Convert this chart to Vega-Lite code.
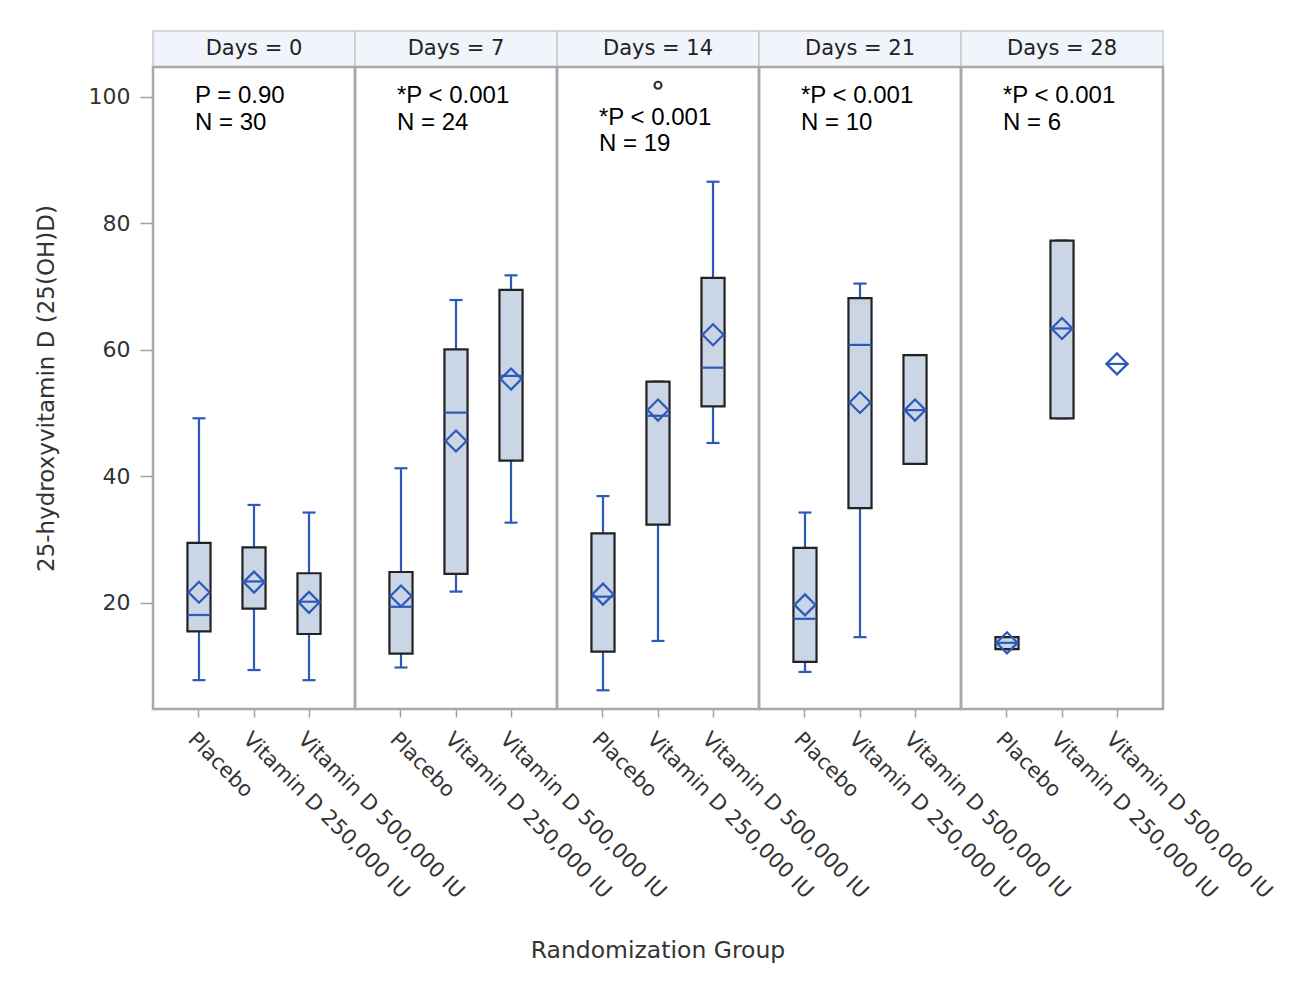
{
  "$schema": "https://vega.github.io/schema/vega-lite/v6.json",
  "padding": {"left": 35, "top": 30, "right": 10, "bottom": 10},
  "background": "white",
  "bounds": "flush",
  "data": {"values": [
    {"kind": "header", "day": "Days = 0"},
    {"kind": "header", "day": "Days = 7"},
    {"kind": "header", "day": "Days = 14"},
    {"kind": "header", "day": "Days = 21"},
    {"kind": "header", "day": "Days = 28"},
    {"kind": "box", "day": "Days = 0", "group": "Placebo", "lower": 7.8, "q1": 15.5, "median": 18.1, "q3": 29.5, "upper": 49.2, "mean": 21.7},
    {"kind": "box", "day": "Days = 0", "group": "Vitamin D 250,000 IU", "lower": 9.4, "q1": 19.1, "median": 23.4, "q3": 28.8, "upper": 35.5, "mean": 23.3},
    {"kind": "box", "day": "Days = 0", "group": "Vitamin D 500,000 IU", "lower": 7.8, "q1": 15.1, "median": 20.2, "q3": 24.7, "upper": 34.3, "mean": 20.1},
    {"kind": "box", "day": "Days = 7", "group": "Placebo", "lower": 9.8, "q1": 12.0, "median": 19.4, "q3": 24.9, "upper": 41.3, "mean": 21.1},
    {"kind": "box", "day": "Days = 7", "group": "Vitamin D 250,000 IU", "lower": 21.8, "q1": 24.6, "median": 50.1, "q3": 60.1, "upper": 67.9, "mean": 45.6},
    {"kind": "box", "day": "Days = 7", "group": "Vitamin D 500,000 IU", "lower": 32.7, "q1": 42.5, "median": 55.9, "q3": 69.5, "upper": 71.8, "mean": 55.4},
    {"kind": "box", "day": "Days = 14", "group": "Placebo", "lower": 6.2, "q1": 12.3, "median": 21.0, "q3": 31.0, "upper": 36.9, "mean": 21.4},
    {"kind": "box", "day": "Days = 14", "group": "Vitamin D 250,000 IU", "lower": 14.0, "q1": 32.4, "median": 49.6, "q3": 55.0, "upper": 55.0, "mean": 50.5},
    {"kind": "box", "day": "Days = 14", "group": "Vitamin D 500,000 IU", "lower": 45.3, "q1": 51.1, "median": 57.2, "q3": 71.4, "upper": 86.6, "mean": 62.4},
    {"kind": "box", "day": "Days = 21", "group": "Placebo", "lower": 9.1, "q1": 10.7, "median": 17.5, "q3": 28.7, "upper": 34.3, "mean": 19.7},
    {"kind": "box", "day": "Days = 21", "group": "Vitamin D 250,000 IU", "lower": 14.6, "q1": 35.0, "median": 60.8, "q3": 68.2, "upper": 70.5, "mean": 51.7},
    {"kind": "box", "day": "Days = 21", "group": "Vitamin D 500,000 IU", "lower": 42.0, "q1": 42.0, "median": 50.5, "q3": 59.2, "upper": 59.2, "mean": 50.5},
    {"kind": "box", "day": "Days = 28", "group": "Placebo", "lower": 12.7, "q1": 12.7, "median": 13.7, "q3": 14.6, "upper": 14.6, "mean": 13.7},
    {"kind": "box", "day": "Days = 28", "group": "Vitamin D 250,000 IU", "lower": 49.2, "q1": 49.2, "median": 63.4, "q3": 77.3, "upper": 77.3, "mean": 63.4},
    {"kind": "box", "day": "Days = 28", "group": "Vitamin D 500,000 IU", "lower": null, "q1": null, "median": 57.8, "q3": null, "upper": null, "mean": 57.8},
    {"kind": "outlier", "day": "Days = 14", "group": "Vitamin D 250,000 IU", "value": 101.85},
    {"kind": "note", "day": "Days = 0", "group": "Placebo", "value": 100.2, "label": "P = 0.90"},
    {"kind": "note", "day": "Days = 0", "group": "Placebo", "value": 95.9, "label": "N = 30"},
    {"kind": "note", "day": "Days = 7", "group": "Placebo", "value": 100.2, "label": "*P < 0.001"},
    {"kind": "note", "day": "Days = 7", "group": "Placebo", "value": 95.9, "label": "N = 24"},
    {"kind": "note", "day": "Days = 14", "group": "Placebo", "value": 96.7, "label": "*P < 0.001"},
    {"kind": "note", "day": "Days = 14", "group": "Placebo", "value": 92.6, "label": "N = 19"},
    {"kind": "note", "day": "Days = 21", "group": "Placebo", "value": 100.2, "label": "*P < 0.001"},
    {"kind": "note", "day": "Days = 21", "group": "Placebo", "value": 95.9, "label": "N = 10"},
    {"kind": "note", "day": "Days = 28", "group": "Placebo", "value": 100.2, "label": "*P < 0.001"},
    {"kind": "note", "day": "Days = 28", "group": "Placebo", "value": 95.9, "label": "N = 6"}
  ]},
  "spacing": 0,
  "facet": {"column": {"field": "day", "type": "nominal", "title": "Randomization Group", "sort": ["Days = 0", "Days = 7", "Days = 14", "Days = 21", "Days = 28"], "header": {"labels": false, "title": "Randomization Group", "titleOrient": "bottom", "titleFont": "DejaVu Sans", "titleFontSize": 23.5, "titleFontWeight": "normal", "titleColor": "#333333", "titlePadding": 27}}},
  "spec": {
    "width": 202,
    "height": 678,
    "layer": [
      {
        "transform": [{"filter": "datum.kind === 'header'"}],
        "mark": {"type": "rect", "fill": "#F1F4FA", "stroke": "#C6CACF", "strokeWidth": 1.5},
        "encoding": {
          "y": {"datum": 104.74, "type": "quantitative", "scale": {"domain": [3.24, 110.43], "nice": false, "zero": false}, "axis": {"values": [20, 40, 60, 80, 100]}, "title": "25-hydroxyvitamin D (25(OH)D)"},
          "y2": {"datum": 110.43}
        }
      },
      {
        "transform": [{"filter": "datum.kind === 'header'"}],
        "mark": {"type": "text", "font": "DejaVu Sans", "fontSize": 21, "color": "#222222", "baseline": "middle", "align": "center"},
        "encoding": {
          "y": {"datum": 107.6, "type": "quantitative", "scale": {"domain": [3.24, 110.43], "nice": false, "zero": false}, "axis": {"values": [20, 40, 60, 80, 100]}, "title": "25-hydroxyvitamin D (25(OH)D)"},
          "text": {"field": "day"}
        }
      },
      {
        "transform": [{"filter": "datum.kind === 'box'"}],
        "mark": {"type": "rule", "color": "#2C59BA", "strokeWidth": 2.2},
        "encoding": {
          "x": {"field": "group", "type": "nominal", "sort": ["Placebo", "Vitamin D 250,000 IU", "Vitamin D 500,000 IU"], "scale": {"paddingInner": 0.58, "paddingOuter": 0.626}, "title": null},
          "y": {"field": "lower", "type": "quantitative", "scale": {"domain": [3.24, 110.43], "nice": false, "zero": false}, "axis": {"values": [20, 40, 60, 80, 100]}, "title": "25-hydroxyvitamin D (25(OH)D)"},
          "y2": {"field": "upper"}
        }
      },
      {
        "transform": [{"filter": "datum.kind === 'box'"}],
        "mark": {"type": "tick", "color": "#2C59BA", "size": 13, "thickness": 2.2, "opacity": 1},
        "encoding": {
          "x": {"field": "group", "type": "nominal", "sort": ["Placebo", "Vitamin D 250,000 IU", "Vitamin D 500,000 IU"], "scale": {"paddingInner": 0.58, "paddingOuter": 0.626}, "title": null},
          "y": {"field": "lower", "type": "quantitative", "scale": {"domain": [3.24, 110.43], "nice": false, "zero": false}, "axis": {"values": [20, 40, 60, 80, 100]}, "title": "25-hydroxyvitamin D (25(OH)D)"}
        }
      },
      {
        "transform": [{"filter": "datum.kind === 'box'"}],
        "mark": {"type": "tick", "color": "#2C59BA", "size": 13, "thickness": 2.2, "opacity": 1},
        "encoding": {
          "x": {"field": "group", "type": "nominal", "sort": ["Placebo", "Vitamin D 250,000 IU", "Vitamin D 500,000 IU"], "scale": {"paddingInner": 0.58, "paddingOuter": 0.626}, "title": null},
          "y": {"field": "upper", "type": "quantitative", "scale": {"domain": [3.24, 110.43], "nice": false, "zero": false}, "axis": {"values": [20, 40, 60, 80, 100]}, "title": "25-hydroxyvitamin D (25(OH)D)"}
        }
      },
      {
        "transform": [{"filter": "datum.kind === 'box'"}],
        "mark": {"type": "bar", "fill": "#CAD5E5", "stroke": "#222222", "strokeWidth": 2.2, "opacity": 1},
        "encoding": {
          "x": {"field": "group", "type": "nominal", "sort": ["Placebo", "Vitamin D 250,000 IU", "Vitamin D 500,000 IU"], "scale": {"paddingInner": 0.58, "paddingOuter": 0.626}, "title": null},
          "y": {"field": "q1", "type": "quantitative", "scale": {"domain": [3.24, 110.43], "nice": false, "zero": false}, "axis": {"values": [20, 40, 60, 80, 100]}, "title": "25-hydroxyvitamin D (25(OH)D)"},
          "y2": {"field": "q3"}
        }
      },
      {
        "transform": [{"filter": "datum.kind === 'box'"}],
        "mark": {"type": "tick", "color": "#2C59BA", "size": 23, "thickness": 2.2, "opacity": 1},
        "encoding": {
          "x": {"field": "group", "type": "nominal", "sort": ["Placebo", "Vitamin D 250,000 IU", "Vitamin D 500,000 IU"], "scale": {"paddingInner": 0.58, "paddingOuter": 0.626}, "title": null},
          "y": {"field": "median", "type": "quantitative", "scale": {"domain": [3.24, 110.43], "nice": false, "zero": false}, "axis": {"values": [20, 40, 60, 80, 100]}, "title": "25-hydroxyvitamin D (25(OH)D)"}
        }
      },
      {
        "transform": [{"filter": "datum.kind === 'box'"}],
        "mark": {"type": "point", "shape": "diamond", "filled": false, "size": 441, "strokeWidth": 2.2, "color": "#2C59BA", "opacity": 1},
        "encoding": {
          "x": {"field": "group", "type": "nominal", "sort": ["Placebo", "Vitamin D 250,000 IU", "Vitamin D 500,000 IU"], "scale": {"paddingInner": 0.58, "paddingOuter": 0.626}, "title": null},
          "y": {"field": "mean", "type": "quantitative", "scale": {"domain": [3.24, 110.43], "nice": false, "zero": false}, "axis": {"values": [20, 40, 60, 80, 100]}, "title": "25-hydroxyvitamin D (25(OH)D)"}
        }
      },
      {
        "transform": [{"filter": "datum.kind === 'outlier'"}],
        "mark": {"type": "point", "shape": "circle", "filled": false, "size": 49, "strokeWidth": 2.2, "color": "#333333", "opacity": 1},
        "encoding": {
          "x": {"field": "group", "type": "nominal", "sort": ["Placebo", "Vitamin D 250,000 IU", "Vitamin D 500,000 IU"], "scale": {"paddingInner": 0.58, "paddingOuter": 0.626}, "title": null},
          "y": {"field": "value", "type": "quantitative", "scale": {"domain": [3.24, 110.43], "nice": false, "zero": false}, "axis": {"values": [20, 40, 60, 80, 100]}, "title": "25-hydroxyvitamin D (25(OH)D)"}
        }
      },
      {
        "transform": [{"filter": "datum.kind === 'note'"}],
        "mark": {"type": "text", "font": "Liberation Sans", "fontSize": 24, "color": "#000000", "align": "left", "baseline": "middle", "dx": -4},
        "encoding": {
          "x": {"field": "group", "type": "nominal", "sort": ["Placebo", "Vitamin D 250,000 IU", "Vitamin D 500,000 IU"], "scale": {"paddingInner": 0.58, "paddingOuter": 0.626}, "title": null},
          "y": {"field": "value", "type": "quantitative", "scale": {"domain": [3.24, 110.43], "nice": false, "zero": false}, "axis": {"values": [20, 40, 60, 80, 100]}, "title": "25-hydroxyvitamin D (25(OH)D)"},
          "text": {"field": "label"}
        }
      },
      {
        "transform": [{"filter": "datum.kind === 'header'"}],
        "mark": {"type": "rect", "fillOpacity": 0, "stroke": "#A5A9AD", "strokeWidth": 2.5},
        "encoding": {
          "y": {"datum": 3.24, "type": "quantitative", "scale": {"domain": [3.24, 110.43], "nice": false, "zero": false}, "axis": {"values": [20, 40, 60, 80, 100]}, "title": "25-hydroxyvitamin D (25(OH)D)"},
          "y2": {"datum": 104.74}
        }
      }
    ]
  },
  "config": {
    "view": {"stroke": null},
    "axis": {"labelFont": "DejaVu Sans", "labelFontSize": 21, "labelColor": "#333333", "titleFont": "DejaVu Sans", "titleFontSize": 23, "titleFontWeight": "normal", "titleColor": "#333333", "tickColor": "#9EA3A8", "tickWidth": 1.5, "domain": false, "grid": false, "labelLimit": 0},
    "axisY": {"tickSize": 13, "labelPadding": 10, "titlePadding": 30, "labelFontSize": 22, "titleY": 357},
    "axisX": {"labelAngle": 45, "tickSize": 8, "labelPadding": 11, "titlePadding": 20}
  }
}
